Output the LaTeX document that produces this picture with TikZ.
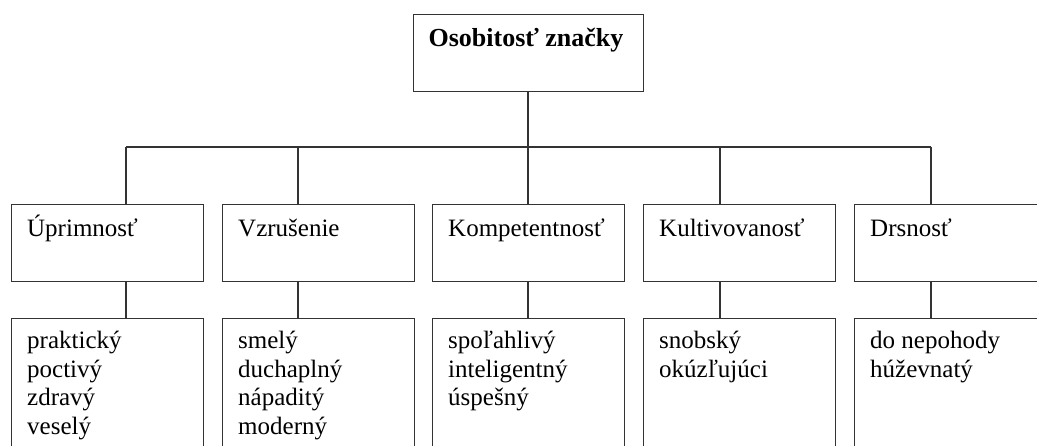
\documentclass[tikz,border=0pt]{standalone}
\usepackage{fontspec}
\setmainfont{Liberation Serif}
\begin{document}
\begin{tikzpicture}[x=1bp,y=-1bp,
  box/.style={draw=black!80, line width=1.1bp, rectangle, inner sep=0pt,
    minimum width=192bp, anchor=north west},
  catbox/.style={box, minimum height=77bp},
  listbox/.style={box, minimum height=170bp},
  wire/.style={draw=black!80, line width=1.1bp},
  lbl/.style={anchor=base west, inner sep=0pt, font=\fontsize{25bp}{28.5bp}\selectfont}]
\useasboundingbox (0,0) rectangle (1037,446);
\clip (0,0) rectangle (1037,446);

% root
\node[box, minimum width=230bp, minimum height=77bp] (root) at (413,14) {};
\node[anchor=base, inner sep=0pt, font=\fontsize{26bp}{30bp}\selectfont\bfseries] (rootlbl) at (526,47) {Osobitosť značky};

% bus coordinates
\coordinate (bus) at (528,147);
\coordinate (b1) at (126,147);
\coordinate (b2) at (298,147);
\coordinate (b3) at (528,147);
\coordinate (b4) at (720,147);
\coordinate (b5) at (931,147);

% category boxes
\node[catbox] (c1) at (11,204) {};
\node[catbox] (c2) at (222,204) {};
\node[catbox] (c3) at (432,204) {};
\node[catbox] (c4) at (643,204) {};
\node[catbox] (c5) at (854,204) {};
\node[lbl] (t1) at (27,237) {Úprimnosť};
\node[lbl] (t2) at (238,237) {Vzrušenie};
\node[lbl] (t3) at (448,237) {Kompetentnosť};
\node[lbl] (t4) at (659,237) {Kultivovanosť};
\node[lbl] (t5) at (870,237) {Drsnosť};

% trait boxes
\node[listbox] (l1) at (11,318) {};
\node[listbox] (l2) at (222,318) {};
\node[listbox] (l3) at (432,318) {};
\node[listbox] (l4) at (643,318) {};
\node[listbox] (l5) at (854,318) {};
\node[lbl] (p1) at (27,349) {praktický};
\node[lbl] (p2) at (27,377.5) {poctivý};
\node[lbl] (p3) at (27,406) {zdravý};
\node[lbl] (p4) at (27,434.5) {veselý};
\node[lbl] (s1) at (238,349) {smelý};
\node[lbl] (s2) at (238,377.5) {duchaplný};
\node[lbl] (s3) at (238,406) {nápaditý};
\node[lbl] (s4) at (238,434.5) {moderný};
\node[lbl] (k1) at (448,349) {spoľahlivý};
\node[lbl] (k2) at (448,377.5) {inteligentný};
\node[lbl] (k3) at (448,406) {úspešný};
\node[lbl] (v1) at (659,349) {snobský};
\node[lbl] (v2) at (659,377.5) {okúzľujúci};
\node[lbl] (d1) at (870,349) {do nepohody};
\node[lbl] (d2) at (870,377.5) {húževnatý};

% connectors
\draw[wire] (root.south -| bus) -- (bus);
\draw[wire] (b1) -- (b5);
\foreach \i in {1,...,5} {
  \draw[wire] (b\i) -- (b\i |- c\i.north);
  \draw[wire] (b\i |- c\i.south) -- (b\i |- l\i.north);
}
\end{tikzpicture}
\end{document}
